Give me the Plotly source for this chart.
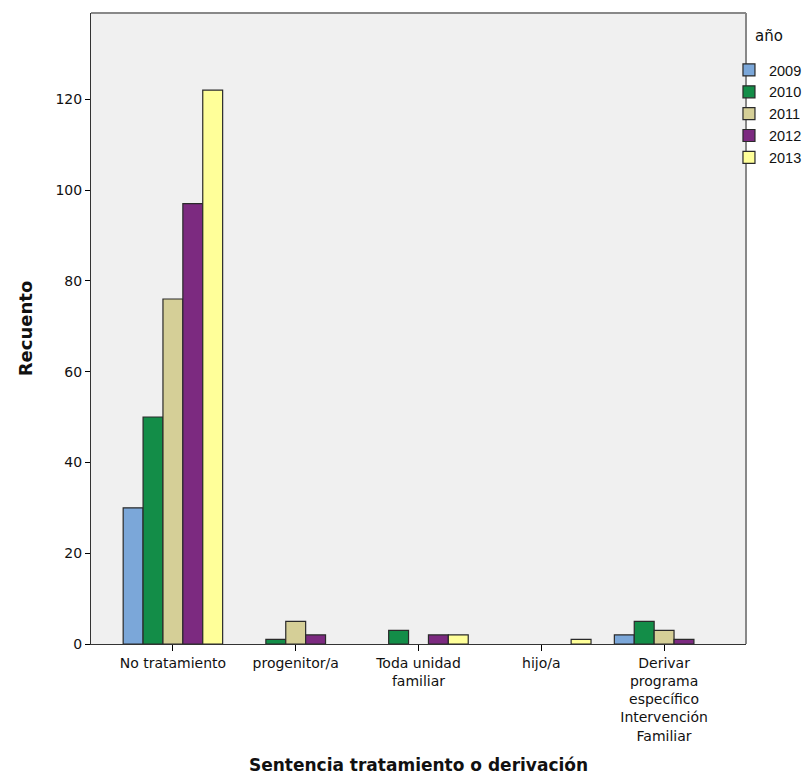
import plotly.graph_objects as go

# categories and counts
categorias = [
    "No tratamiento",
    "progenitor/a",
    "Toda unidad<br>familiar",
    "hijo/a",
    "Derivar<br>programa<br>específico<br>Intervención<br>Familiar",
]
anios = ["2009", "2010", "2011", "2012", "2013"]

v2009 = [30, None, None, None, 2]
v2010 = [50, 1, 3, None, 5]
v2011 = [76, 5, None, None, 3]
v2012 = [97, 2, 2, None, 1]
v2013 = [122, None, 2, 1, None]

series = [v2009, v2010, v2011, v2012, v2013]
colores = ["#7BA7D9", "#138D48", "#D5CF97", "#7C2A80", "#FFFF99"]

fig = go.Figure()

for anio, vals, col in zip(anios, series, colores):
    fig.add_trace(go.Bar(
        x=list(range(len(categorias))),
        y=vals,
        name=anio,
        marker=dict(color=col, line=dict(color="#2a2a2a", width=1.2)),
    ))

fig.update_layout(
    width=795,
    height=767,
    barmode="group",
    bargap=0.19,
    bargroupgap=0,
    paper_bgcolor="white",
    plot_bgcolor="#F0F0F0",
    font=dict(family="DejaVu Sans, Arial, sans-serif", size=14, color="#111"),
    margin=dict(l=83, r=57, t=5, b=131, autoexpand=False),
    showlegend=True,
    legend=dict(
        x=0.974,
        xanchor="left",
        y=0.935,
        yanchor="top",
        font=dict(family="Liberation Sans, Arial, sans-serif", size=14.5),
        tracegroupgap=0,
        itemwidth=30,
        bgcolor="rgba(0,0,0,0)",
    ),
    xaxis=dict(
        range=[-0.667, 4.667],
        tickmode="array",
        tickvals=list(range(len(categorias))),
        ticktext=categorias,
        ticks="outside",
        ticklen=6,
        tickcolor="#000",
        showline=True,
        linecolor="#333",
        mirror=False,
        showgrid=False,
        zeroline=False,
        title=dict(
            text="<b>Sentencia tratamiento o derivación</b>",
            font=dict(size=17),
            standoff=24,
        ),
    ),
    yaxis=dict(
        range=[0, 139],
        tickvals=[0, 20, 40, 60, 80, 100, 120],
        ticks="outside",
        ticklen=5,
        tickcolor="#000",
        showline=True,
        linecolor="#333",
        showgrid=False,
        zeroline=False,
        title=dict(text="<b>Recuento</b>", font=dict(size=18), standoff=18),
    ),
)

# legend heading as in the reference
fig.add_annotation(text="año", xref="paper", yref="paper", x=1.011, y=0.9635,
                   xanchor="left", yanchor="middle", showarrow=False,
                   font=dict(size=15))

# grey frame on top and right like the reference
fig.add_shape(type="line", xref="paper", yref="paper", x0=0, x1=1, y0=1, y1=1,
              line=dict(color="#888", width=2))
fig.add_shape(type="line", xref="paper", yref="paper", x0=1, x1=1, y0=0, y1=1,
              line=dict(color="#888", width=2))

fig.write_html("out.html")
